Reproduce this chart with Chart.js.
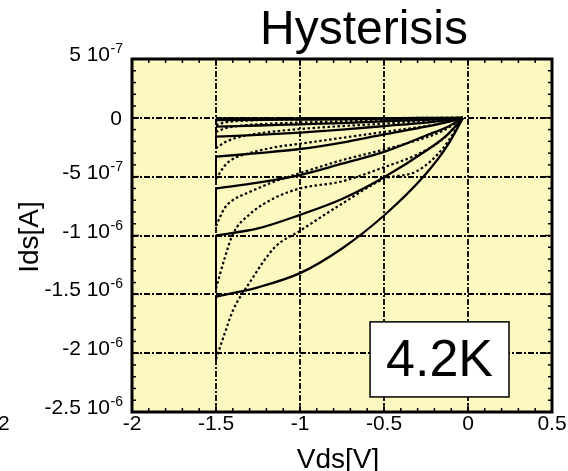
<!DOCTYPE html>
<html><head><meta charset="utf-8">
<script src="https://cdn.jsdelivr.net/npm/chart.js@4.4.1/dist/chart.umd.min.js"></script>
<style>html,body{margin:0;padding:0;background:#fff;}</style>
</head><body>
<canvas id="c" width="568" height="471"></canvas>
<script>
// Vds [V] sample points and Ids values in units of 1e-6 A
const vdsSolid = [-1.5, -1.25, -1.0, -0.75, -0.5, -0.25, -0.12, -0.03];
const solid1 = [-1.52, -1.44, -1.32, -1.11, -0.83, -0.475, -0.23, 0];
const solid2 = [-1.00, -0.94, -0.825, -0.69, -0.505, -0.28, -0.14, 0];
const solid3 = [-0.60, -0.55, -0.486, -0.39, -0.29, -0.15, -0.075, 0];
const solid4 = [-0.33, -0.30, -0.265, -0.21, -0.14, -0.075, -0.035, 0];
const solid5 = [-0.16, -0.145, -0.125, -0.10, -0.07, -0.04, -0.02, 0];
const solid6 = [-0.075, -0.065, -0.055, -0.045, -0.03, -0.017, -0.008, 0];
const solid7 = [-0.02, -0.018, -0.015, -0.012, -0.008, -0.005, -0.002, 0];
const solid8 = [-0.005, -0.004, -0.004, -0.003, -0.002, -0.001, 0, 0];

const vdsDotted = [-1.5, -1.45, -1.4, -1.3, -1.15, -1.0, -0.75, -0.5, -0.3, -0.15, -0.03];
const dotted1 = [-2.05, -1.84, -1.64, -1.40, -1.10, -0.96, -0.73, -0.52, -0.45, -0.26, 0];
const dotted2 = [-1.45, -1.20, -0.99, -0.82, -0.68, -0.60, -0.54, -0.42, -0.31, -0.18, 0];
const dotted3 = [-0.92, -0.77, -0.70, -0.63, -0.54, -0.47, -0.36, -0.27, -0.19, -0.11, 0];
const dotted4 = [-0.52, -0.41, -0.35, -0.30, -0.25, -0.22, -0.17, -0.12, -0.08, -0.045, 0];
const dotted5 = [-0.26, -0.21, -0.18, -0.145, -0.115, -0.095, -0.07, -0.05, -0.03, -0.018, 0];
const dotted6 = [-0.12, -0.09, -0.075, -0.06, -0.048, -0.04, -0.03, -0.02, -0.012, -0.006, 0];
const dotted7 = [-0.06, -0.04, -0.03, -0.022, -0.016, -0.012, -0.008, -0.005, -0.003, -0.001, 0];
const dotted8 = [-0.015, -0.01, -0.008, -0.006, -0.005, -0.004, -0.003, -0.002, -0.001, 0, 0];

const xTicks = [-2, -1.5, -1, -0.5, 0, 0.5];
const yTicks = [0.5, 0, -0.5, -1, -1.5, -2, -2.5];
const yTickMantissa = ["5 10", "0", "-5 10", "-1 10", "-1.5 10", "-2 10", "-2.5 10"];
const yTickExponent = ["-7", "", "-7", "-6", "-6", "-6", "-6"];
const titleText = "Hysterisis";
const xTitle = "Vds[V]";
const yTitle = "Ids[A]";
const tempLabel = "4.2K";

const FONT = '"Liberation Sans", Arial, sans-serif';
const solids = [solid1, solid2, solid3, solid4, solid5, solid6, solid7, solid8];
const dotteds = [dotted1, dotted2, dotted3, dotted4, dotted5, dotted6, dotted7, dotted8];

const datasets = [];
solids.forEach(arr => datasets.push({
  data: vdsSolid.map((v, i) => ({x: v, y: arr[i]})),
  borderColor: '#000', borderWidth: 2.3, pointRadius: 0, showLine: true, fill: false,
  cubicInterpolationMode: 'monotone'
}));
dotteds.forEach(arr => datasets.push({
  data: vdsDotted.map((v, i) => ({x: v, y: arr[i]})),
  borderColor: '#000', borderWidth: 2.2, borderDash: [2.5, 2.5], pointRadius: 0, showLine: true, fill: false,
  cubicInterpolationMode: 'monotone'
}));
// vertical connectors at the sweep end (Vds = -1.5 V)
solids.forEach((arr, k) => datasets.push({
  data: [{x: vdsSolid[0], y: arr[0]}, {x: vdsDotted[0], y: dotteds[k][0]}],
  borderColor: '#000', borderWidth: 2, pointRadius: 0, showLine: true, fill: false
}));

function line(ctx, x1, y1, x2, y2) { ctx.beginPath(); ctx.moveTo(x1, y1); ctx.lineTo(x2, y2); ctx.stroke(); }

const decor = {
  id: 'decor',
  beforeDatasetsDraw(chart) {
    const {ctx, chartArea: a, scales: {x, y}} = chart;
    ctx.save();
    ctx.fillStyle = '#FBF8C0';
    ctx.fillRect(a.left, a.top, a.right - a.left, a.bottom - a.top);
    ctx.strokeStyle = '#000'; ctx.lineWidth = 1.8; ctx.setLineDash([6, 2, 2, 2]);
    xTicks.slice(1, -1).forEach(v => { const p = Math.round(x.getPixelForValue(v)); line(ctx, p, a.top, p, a.bottom); });
    yTicks.slice(1, -1).forEach(v => { const p = Math.round(y.getPixelForValue(v)); line(ctx, a.left, p, a.right, p); });
    ctx.restore();
  },
  afterDatasetsDraw(chart) {
    const {ctx, chartArea: a, scales: {x, y}} = chart;
    ctx.save();
    // inward ticks
    ctx.strokeStyle = '#000'; ctx.lineWidth = 1.5; ctx.setLineDash([]);
    for (let i = 0; i <= 25; i++) {
      const v = -2 + i * 0.1; const p = x.getPixelForValue(v);
      const L = (i % 5 === 0) ? 7 : 4;
      line(ctx, p, a.bottom, p, a.bottom - L); line(ctx, p, a.top, p, a.top + L);
    }
    for (let i = 0; i <= 30; i++) {
      const v = -2.5 + i * 0.1; const p = y.getPixelForValue(v);
      const L = (i % 5 === 0) ? 7 : 4;
      line(ctx, a.left, p, a.left + L, p); line(ctx, a.right, p, a.right - L, p);
    }
    // frame
    ctx.lineWidth = 3;
    ctx.strokeRect(a.left, a.top, a.right - a.left, a.bottom - a.top);
    // temperature box
    const bx1 = x.getPixelForValue(-0.583), bx2 = x.getPixelForValue(0.244);
    const by1 = y.getPixelForValue(-1.734), by2 = y.getPixelForValue(-2.372);
    ctx.fillStyle = '#fff'; ctx.fillRect(bx1, by1, bx2 - bx1, by2 - by1);
    ctx.lineWidth = 1.5; ctx.strokeRect(bx1, by1, bx2 - bx1, by2 - by1);
    ctx.fillStyle = '#000'; ctx.font = '52px ' + FONT; ctx.textAlign = 'center'; ctx.textBaseline = 'middle';
    ctx.fillText(tempLabel, (bx1 + bx2) / 2, (by1 + by2) / 2 + 2);
    // y tick labels with exponents
    ctx.textBaseline = 'alphabetic';
    yTicks.forEach((v, i) => {
      const p = y.getPixelForValue(v);
      if (yTickExponent[i]) {
        ctx.font = '21px ' + FONT; ctx.textAlign = 'right';
        ctx.fillText(yTickMantissa[i], 110, p + 2);
        ctx.font = '14px ' + FONT; ctx.textAlign = 'left';
        ctx.fillText(yTickExponent[i], 110.5, p - 6);
      } else {
        ctx.font = '21px ' + FONT; ctx.textAlign = 'right';
        ctx.fillText(yTickMantissa[i], 122, p + 7);
      }
    });
    // titles
    ctx.font = '48px ' + FONT; ctx.textAlign = 'center';
    ctx.fillText(titleText, 364, 44);
    ctx.font = '28px ' + FONT;
    ctx.fillText(xTitle, 338, 468);
    ctx.save(); ctx.translate(38, 237); ctx.rotate(-Math.PI / 2);
    ctx.fillText(yTitle, 0, 0); ctx.restore();
    ctx.font = '21px ' + FONT; ctx.textAlign = 'left';
    ctx.fillText('2', -2, 430);
    ctx.restore();
  }
};

new Chart(document.getElementById('c'), {
  type: 'scatter',
  data: {datasets},
  options: {
    responsive: false, animation: false, devicePixelRatio: 1,
    layout: {padding: {top: 59, right: 16, left: 0, bottom: 0}},
    plugins: {legend: {display: false}, tooltip: {enabled: false}, title: {display: false}},
    scales: {
      x: {
        type: 'linear', min: -2, max: 0.5,
        afterFit: s => { s.height = 59; },
        afterBuildTicks: s => { s.ticks = xTicks.map(v => ({value: v})); },
        grid: {display: false, drawTicks: false}, border: {display: false},
        ticks: {color: '#000', font: {size: 21, family: FONT}, padding: 0, maxRotation: 0, autoSkip: false,
                callback: v => String(v)}
      },
      y: {
        type: 'linear', min: -2.5, max: 0.5,
        afterFit: s => { s.width = 132; },
        afterBuildTicks: s => { s.ticks = yTicks.map(v => ({value: v})); },
        grid: {display: false, drawTicks: false}, border: {display: false},
        ticks: {display: false}
      }
    }
  },
  plugins: [decor]
});
</script>
</body></html>
